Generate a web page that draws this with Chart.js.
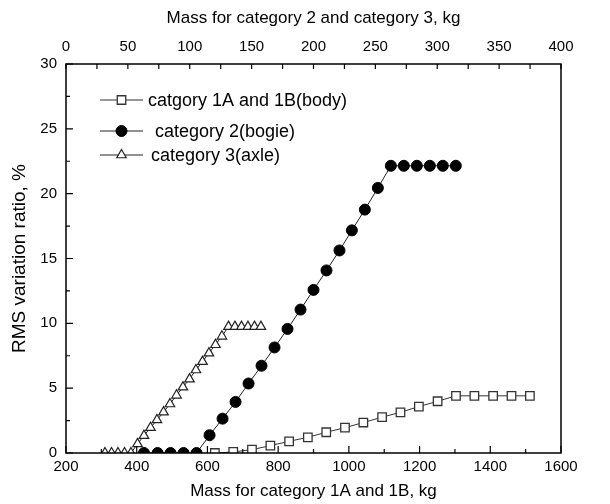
<!DOCTYPE html>
<html>
<head>
<meta charset="utf-8">
<script src="https://cdn.jsdelivr.net/npm/chart.js@4.4.0/dist/chart.umd.min.js"></script>
<style>
  body { margin: 0; background: #fff; }
  canvas { display: block; }
</style>
</head>
<body>
<canvas id="myChart" width="610" height="504"></canvas>
<script>
// category 1A/1B (body) - bottom axis, kg
var bodyMass = [621, 673, 726, 778, 831, 884, 936, 989, 1041, 1094, 1146, 1198, 1251, 1303, 1355, 1408, 1460, 1512];
var bodyRatio = [0, 0.08, 0.26, 0.57, 0.9, 1.21, 1.6, 1.95, 2.35, 2.76, 3.14, 3.58, 3.99, 4.41, 4.41, 4.41, 4.41, 4.41];

// category 2 (bogie) - top axis, kg
var bogieMass = [63, 74, 84.5, 95, 105.5, 116, 126.5, 137, 147.5, 158, 168.5, 179, 189.5, 200, 210.5, 221, 231, 241.5, 252, 262.5, 273, 283.5, 294, 304.5, 315];
var bogieRatio = [0, 0, 0, 0, 0, 1.37, 2.65, 3.94, 5.36, 6.73, 8.14, 9.57, 11.06, 12.58, 14.08, 15.62, 17.17, 18.77, 20.44, 22.15, 22.15, 22.15, 22.15, 22.15, 22.15];

// category 3 (axle) - top axis, kg
var axleMass = [31.5, 36.8, 42, 47.3, 52.5, 57.8, 63, 68.3, 73.5, 78.8, 84, 89.3, 94.5, 99.8, 105, 110.3, 115.5, 120.8, 126, 131.3, 136.5, 141.8, 147, 152.3, 157.5];
var axleRatio = [0, 0, 0, 0, 0, 0.7, 1.34, 1.95, 2.55, 3.15, 3.78, 4.45, 5.08, 5.7, 6.4, 7.05, 7.7, 8.35, 9.0, 9.75, 9.75, 9.75, 9.75, 9.75, 9.75];

var seriesLabels = ['catgory 1A and 1B(body)', 'category 2(bogie)', 'category 3(axle)'];

var FONT = 'Arial, "Liberation Sans", sans-serif';

function toPoints(xs, ys) {
  var pts = [];
  for (var i = 0; i < xs.length; i++) {
    pts.push({x: xs[i], y: ys[i]});
  }
  return pts;
}

// plain numbers, no thousands separator
function plainTick(v) {
  return String(v);
}

// frame + inward tick marks (major / minor)
var frameTicks = {
  id: 'frameTicks',
  afterDraw: function (chart) {
    var ctx = chart.ctx;
    var a = chart.chartArea;
    var sx = chart.scales.x, st = chart.scales.x2, sy = chart.scales.y;
    ctx.save();
    ctx.strokeStyle = '#000';
    ctx.lineWidth = 1.5;
    ctx.strokeRect(a.left, a.top, a.right - a.left, a.bottom - a.top);
    ctx.lineWidth = 1.2;
    ctx.beginPath();
    // bottom
    for (var v = sx.min; v <= sx.max; v += 100) {
      var px = sx.getPixelForValue(v);
      var len = (v % 200 == 0) ? 7 : 4;
      ctx.moveTo(px, a.bottom);
      ctx.lineTo(px, a.bottom - len);
    }
    // top
    for (var v = st.min; v <= st.max; v += 25) {
      var px = st.getPixelForValue(v);
      ctx.moveTo(px, a.top);
      ctx.lineTo(px, a.top + 5);
    }
    // left
    for (var v = sy.min; v <= sy.max; v += 2.5) {
      var py = sy.getPixelForValue(v);
      var len = (v % 5 == 0) ? 7 : 4;
      ctx.moveTo(a.left, py);
      ctx.lineTo(a.left + len, py);
    }
    ctx.stroke();
    ctx.restore();
  }
};

// legend drawn inside the plot area
var innerLegend = {
  id: 'innerLegend',
  afterDraw: function (chart) {
    var ctx = chart.ctx;
    var a = chart.chartArea;
    var rowY = [36, 67, 91];
    var textX = [82, 89, 85];
    ctx.save();
    ctx.font = '18px ' + FONT;
    ctx.textBaseline = 'middle';
    chart.data.datasets.forEach(function (ds, i) {
      var y = a.top + rowY[i];
      var x0 = a.left + 34, x1 = a.left + 77;
      ctx.strokeStyle = ds.borderColor;
      ctx.lineWidth = 1;
      ctx.beginPath();
      ctx.moveTo(x0, y);
      ctx.lineTo(x1, y);
      ctx.stroke();
      ctx.fillStyle = ds.pointBackgroundColor;
      ctx.strokeStyle = ds.pointBorderColor;
      ctx.lineWidth = ds.pointBorderWidth;
      Chart.helpers.drawPoint(ctx, {pointStyle: ds.pointStyle, radius: ds.pointRadius, rotation: 0, borderWidth: ds.pointBorderWidth}, (x0 + x1) / 2, y);
      ctx.fillStyle = '#000';
      ctx.fillText(ds.label, a.left + textX[i], y + 1);
    });
    ctx.restore();
  }
};

new Chart('myChart', {
  type: 'scatter',
  data: {
    datasets: [{
      label: seriesLabels[0],
      xAxisID: 'x',
      data: toPoints(bodyMass, bodyRatio),
      showLine: true,
      borderColor: '#333',
      borderWidth: 1,
      pointStyle: 'rect',
      pointRadius: 6,
      pointBackgroundColor: '#fff',
      pointBorderColor: '#333',
      pointBorderWidth: 1.3,
      clip: 0
    }, {
      label: seriesLabels[1],
      xAxisID: 'x2',
      data: toPoints(bogieMass, bogieRatio),
      showLine: true,
      borderColor: '#222',
      borderWidth: 1,
      pointStyle: 'circle',
      pointRadius: 5.5,
      pointBackgroundColor: '#000',
      pointBorderColor: '#000',
      pointBorderWidth: 1,
      clip: 0
    }, {
      label: seriesLabels[2],
      xAxisID: 'x2',
      data: toPoints(axleMass, axleRatio),
      showLine: true,
      borderColor: '#222',
      borderWidth: 1,
      pointStyle: 'triangle',
      pointRadius: 5.5,
      pointBackgroundColor: '#fff',
      pointBorderColor: '#222',
      pointBorderWidth: 1.2,
      clip: 0
    }]
  },
  options: {
    responsive: false,
    animation: false,
    layout: { padding: { right: 49 } },
    plugins: {
      legend: { display: false },
      tooltip: { enabled: false }
    },
    scales: {
      x: {
        type: 'linear',
        position: 'bottom',
        min: 200,
        max: 1600,
        afterFit: function (s) { s.height = 51; },
        grid: { display: false, drawTicks: false },
        border: { display: false },
        ticks: { stepSize: 200, padding: 5, color: '#000', callback: plainTick, font: { family: FONT, size: 15 } },
        title: { display: true, text: 'Mass for category 1A and 1B, kg', color: '#000', padding: 2, font: { family: FONT, size: 17 } }
      },
      x2: {
        type: 'linear',
        position: 'top',
        min: 0,
        max: 400,
        afterFit: function (s) { s.height = 64; },
        grid: { display: false, drawTicks: false },
        border: { display: false },
        ticks: { stepSize: 50, padding: 8, color: '#000', callback: plainTick, font: { family: FONT, size: 15 } },
        title: { display: true, text: 'Mass for category 2 and category 3, kg', color: '#000', padding: 8, font: { family: FONT, size: 17 } }
      },
      y: {
        type: 'linear',
        position: 'left',
        min: 0,
        max: 30,
        afterFit: function (s) { s.width = 66; },
        grid: { display: false, drawTicks: false },
        border: { display: false },
        ticks: { stepSize: 5, padding: 9, color: '#000', callback: plainTick, font: { family: FONT, size: 15 } },
        title: { display: true, text: 'RMS variation ratio, %', color: '#000', padding: 8, font: { family: FONT, size: 19 } }
      }
    }
  },
  plugins: [frameTicks, innerLegend]
});
</script>
</body>
</html>
